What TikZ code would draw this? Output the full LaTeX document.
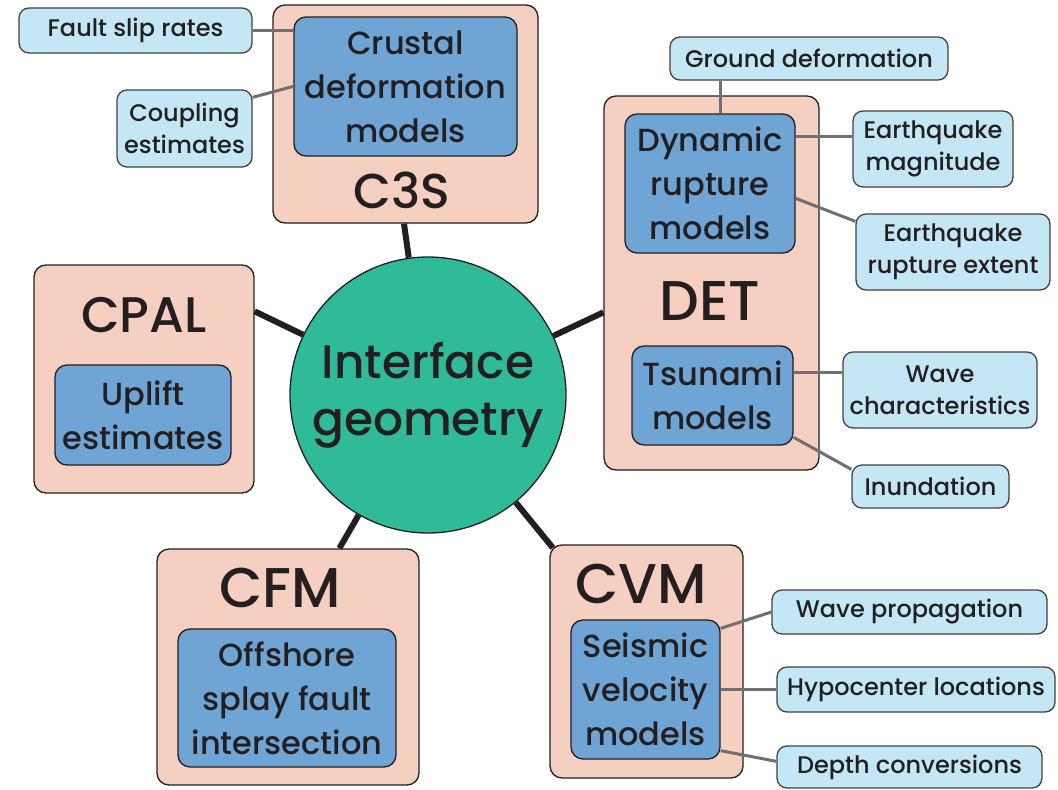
\documentclass[tikz,border=0pt]{standalone}
\usepackage{fontspec}
\setmainfont{Poppins}[UprightFont={* Medium}]
\usetikzlibrary{positioning}
\definecolor{salmon}{HTML}{F5CFC0}
\definecolor{midblue}{HTML}{6FA5D5}
\definecolor{paleblue}{HTML}{C4E7F6}
\definecolor{geogreen}{HTML}{30BB98}
\definecolor{inkgray}{HTML}{231F20}
\definecolor{linkgray}{HTML}{707070}
\tikzset
{
    group/.style      = {rectangle, rounded corners=12pt, draw=inkgray, line width=1.3pt, fill=salmon},
    model/.style      = {rectangle, rounded corners=12pt, draw=inkgray, line width=1.3pt, fill=midblue, align=center, inner sep=0pt, font=\fontsize{32}{44}\selectfont},
    output/.style     = {rectangle, rounded corners=10pt, draw=inkgray!85, line width=1.3pt, fill=paleblue, align=center, inner sep=0pt, font=\fontsize{24}{32}\selectfont},
    grouplabel/.style = {anchor=base, inner sep=0pt, font=\fontsize{56}{60}\selectfont},
    hub/.style        = {circle, draw=inkgray, line width=1.3pt, fill=geogreen, align=center, inner sep=0pt, font=\fontsize{47}{57}\selectfont},
    spoke/.style      = {line width=6pt, draw=inkgray},
    link/.style       = {line width=3pt, draw=linkgray}
}

\begin{document}
\begin{tikzpicture}[x=1pt, y=-1pt, color=inkgray]
    \useasboundingbox (0,0) rectangle (1058,790);
    % centre
    \node (hub)     [hub, minimum size=276pt]                                at (428,395)     {Interface\\geometry};
    % groups
    \node (c3s)     [group, minimum width=265pt, minimum height=218pt]       at (405.5,114)   {};
    \node (cpal)    [group, minimum width=220pt, minimum height=228pt]       at (144,379)     {};
    \node (cfm)     [group, minimum width=262pt, minimum height=236pt]       at (288,667)     {};
    \node (cvm)     [group, minimum width=193pt, minimum height=233pt]       at (646.5,661.5) {};
    \node (det)     [group, minimum width=215pt, minimum height=374pt]       at (711.5,283)   {};
    \node (c3sl)    [grouplabel, font=\fontsize{49}{52}\selectfont]          at (402,208)     {C3S};
    \node (cpall)   [grouplabel, font=\fontsize{50}{54}\selectfont]          at (144,332)     {CPAL};
    \node (cfml)    [grouplabel]                                             at (280,607)     {CFM};
    \node (cvml)    [grouplabel]                                             at (641,603)     {CVM};
    \node (detl)    [grouplabel]                                             at (710,320)     {DET};
    % models
    \node (crustal) [model, minimum width=223pt, minimum height=139pt]       at (405.5,86.5)  {Crustal\\deformation\\models};
    \node (uplift)  [model, minimum width=176pt, minimum height=100pt]       at (143,415)     {Uplift\\estimates};
    \node (splay)   [model, minimum width=218pt, minimum height=138pt]       at (287,698)     {Offshore\\splay fault\\intersection};
    \node (seismic) [model, minimum width=149pt, minimum height=139pt]       at (645.5,689.5) {Seismic\\velocity\\models};
    \node (dynamic) [model, minimum width=170pt, minimum height=139pt]       at (710,183.5)   {Dynamic\\rupture\\models};
    \node (tsunami) [model, minimum width=161pt, minimum height=99pt]        at (712.5,395.5) {Tsunami\\models};
    % outputs
    \node (slip)    [output, minimum width=233pt, minimum height=45pt]       at (135.5,30.5)  {Fault slip rates};
    \node (coupl)   [output, minimum width=135pt, minimum height=77pt]       at (184.5,128.5) {Coupling\\estimates};
    \node (ground)  [output, minimum width=278pt, minimum height=43pt]       at (809,58.5)    {Ground deformation};
    \node (eqmag)   [output, minimum width=160pt, minimum height=76pt]       at (933,149)     {Earthquake\\magnitude};
    \node (eqext)   [output, minimum width=194pt, minimum height=76pt]       at (953,252)     {Earthquake\\rupture extent};
    \node (wavech)  [output, minimum width=194pt, minimum height=76pt]       at (940,390)     {Wave\\characteristics};
    \node (inund)   [output, minimum width=157pt, minimum height=43pt]       at (930.5,486.5) {Inundation};
    \node (waveprop)[output, minimum width=275pt, minimum height=44pt]       at (909.5,612)   {Wave propagation};
    \node (hypo)    [output, minimum width=278pt, minimum height=45pt]       at (916,689.5)   {Hypocenter locations};
    \node (depth)   [output, minimum width=265pt, minimum height=42pt]       at (909.5,767)   {Depth conversions};
    % spokes
    \draw[spoke] (hub) -- ([xshift=-1.5pt]c3s.south);
    \draw[spoke] (hub) -- ([yshift=-47pt]cpal.north east);
    \draw[spoke] (hub) -- ([yshift=-217pt]det.north west);
    \draw[spoke] (hub) -- ([shift={(3.5pt,-3.5pt)}]cvm.north west);
    \draw[spoke] (hub) -- ([xshift=183pt]cfm.north west);
    % links
    \draw[link] (slip.east) -- (crustal.west |- slip.east);
    \draw[link] ([yshift=-8pt]coupl.north east) -- ([yshift=-70pt]crustal.north west);
    \draw[link] ([xshift=10pt]dynamic.north) -- ([xshift=10pt]dynamic.north |- ground.south);
    \draw[link] ([yshift=-23pt]dynamic.north east) -- ([yshift=-26pt]eqmag.north west);
    \draw[link] ([yshift=-85pt]dynamic.north east) -- ([yshift=-8pt]eqext.north west);
    \draw[link] ([yshift=-27pt]tsunami.north east) -- ([yshift=-21pt]wavech.north west);
    \draw[link] ([yshift=-92pt]tsunami.north east) -- ([yshift=-5pt]inund.north west);
    \draw[link] ([yshift=-9pt]seismic.north east) -- (waveprop.west);
    \draw[link] (seismic.east) -- (hypo.west);
    \draw[link] ([yshift=9pt]seismic.south east) -- ([yshift=-16pt]depth.north west);
\end{tikzpicture}
\end{document}
